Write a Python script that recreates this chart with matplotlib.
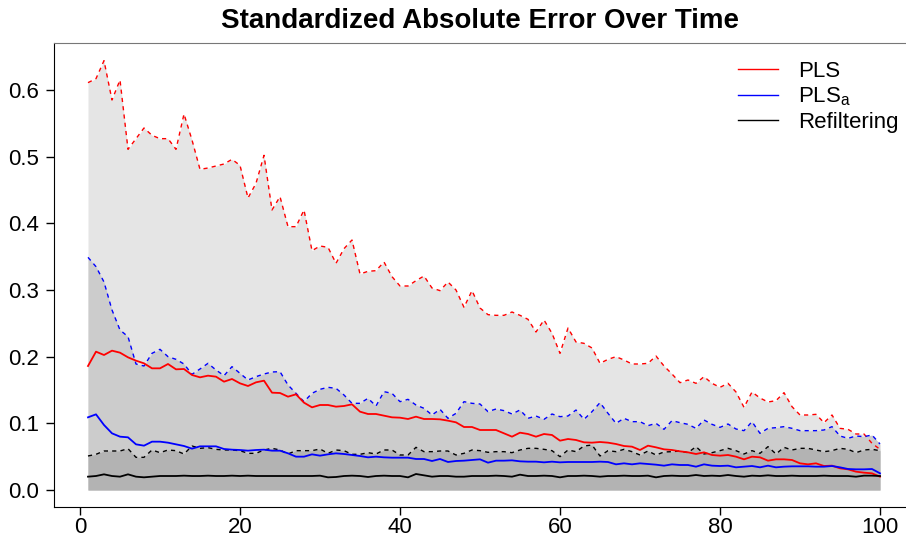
import numpy as np
import matplotlib
matplotlib.use("Agg")
import matplotlib.pyplot as plt

plt.rcParams['font.family'] = ['Liberation Sans', 'DejaVu Sans']
plt.rcParams['mathtext.fontset'] = 'custom'
plt.rcParams['mathtext.rm'] = 'Liberation Sans'
plt.rcParams['mathtext.it'] = 'Liberation Sans'

time = np.arange(1, 101)

pls_upper = [0.611, 0.617, 0.644, 0.585, 0.615, 0.511, 0.527, 0.543, 0.532, 0.527,
             0.527, 0.511, 0.564, 0.525, 0.481, 0.483, 0.486, 0.489, 0.496, 0.487,
             0.438, 0.460, 0.502, 0.420, 0.440, 0.395, 0.395, 0.420, 0.359, 0.366,
             0.364, 0.340, 0.362, 0.375, 0.324, 0.328, 0.329, 0.342, 0.320, 0.306,
             0.306, 0.314, 0.321, 0.303, 0.299, 0.312, 0.300, 0.274, 0.299, 0.273,
             0.263, 0.262, 0.262, 0.267, 0.262, 0.256, 0.237, 0.255, 0.235, 0.205,
             0.243, 0.222, 0.220, 0.213, 0.190, 0.196, 0.200, 0.195, 0.189, 0.189,
             0.190, 0.201, 0.186, 0.174, 0.161, 0.165, 0.160, 0.170, 0.160, 0.154,
             0.160, 0.147, 0.124, 0.147, 0.138, 0.132, 0.134, 0.146, 0.125, 0.1125,
             0.1125, 0.1135, 0.101, 0.1125, 0.0925, 0.091, 0.084, 0.084, 0.070, 0.061]

plsa_upper = [0.349, 0.335, 0.312, 0.270, 0.240, 0.230, 0.189, 0.186, 0.205, 0.211,
              0.200, 0.196, 0.189, 0.1735, 0.1815, 0.190, 0.180, 0.1715, 0.185, 0.175,
              0.165, 0.170, 0.174, 0.177, 0.1775, 0.1575, 0.145, 0.1325, 0.145, 0.151,
              0.154, 0.1525, 0.1425, 0.130, 0.130, 0.1375, 0.126, 0.1475, 0.145, 0.1325,
              0.136, 0.1275, 0.1225, 0.1125, 0.121, 0.1075, 0.115, 0.1325, 0.130, 0.129,
              0.1175, 0.1215, 0.119, 0.114, 0.120, 0.1075, 0.111, 0.106, 0.114, 0.110,
              0.111, 0.120, 0.106, 0.1175, 0.131, 0.115, 0.100, 0.1075, 0.1025, 0.1025,
              0.0965, 0.100, 0.091, 0.104, 0.101, 0.0985, 0.0925, 0.105, 0.0985, 0.094,
              0.099, 0.0915, 0.089, 0.1025, 0.085, 0.0925, 0.0935, 0.095, 0.0925, 0.089,
              0.089, 0.089, 0.090, 0.095, 0.081, 0.0775, 0.081, 0.080, 0.0825, 0.069]

ref_upper = [0.051, 0.0535, 0.0585, 0.0585, 0.0585, 0.062, 0.049, 0.049, 0.060, 0.056,
             0.060, 0.059, 0.054, 0.066, 0.0625, 0.0635, 0.061, 0.060, 0.060, 0.059,
             0.055, 0.055, 0.060, 0.0625, 0.060, 0.054, 0.059, 0.059, 0.059, 0.0615,
             0.055, 0.060, 0.059, 0.0535, 0.0535, 0.056, 0.054, 0.060, 0.060, 0.0525,
             0.0525, 0.064, 0.0575, 0.0575, 0.0585, 0.0585, 0.0525, 0.055, 0.060, 0.059,
             0.0565, 0.0575, 0.0575, 0.056, 0.060, 0.0625, 0.0625, 0.061, 0.059, 0.050,
             0.060, 0.0575, 0.066, 0.0675, 0.051, 0.059, 0.0575, 0.061, 0.0575, 0.0525,
             0.0585, 0.0525, 0.057, 0.0575, 0.0585, 0.056, 0.065, 0.054, 0.056, 0.059,
             0.0625, 0.059, 0.054, 0.059, 0.055, 0.065, 0.054, 0.064, 0.060, 0.0625,
             0.0625, 0.060, 0.0575, 0.059, 0.0625, 0.061, 0.056, 0.060, 0.061, 0.059]

pls_mean = [0.186, 0.2075, 0.2025, 0.209, 0.206, 0.199, 0.194, 0.190, 0.1825, 0.1825,
            0.189, 0.181, 0.1815, 0.1725, 0.169, 0.1715, 0.170, 0.1625, 0.1665, 0.160,
            0.156, 0.1615, 0.164, 0.146, 0.1455, 0.140, 0.1435, 0.131, 0.124, 0.1275,
            0.1275, 0.125, 0.126, 0.1285, 0.1175, 0.114, 0.114, 0.1115, 0.109, 0.1085,
            0.1065, 0.110, 0.1065, 0.1065, 0.106, 0.104, 0.1015, 0.0945, 0.0945, 0.090,
            0.090, 0.090, 0.085, 0.080, 0.086, 0.084, 0.080, 0.084, 0.0825, 0.074,
            0.0765, 0.075, 0.0715, 0.071, 0.072, 0.071, 0.069, 0.066, 0.065, 0.060,
            0.0665, 0.064, 0.061, 0.060, 0.058, 0.0565, 0.054, 0.0565, 0.0525, 0.0515,
            0.0525, 0.050, 0.046, 0.050, 0.049, 0.044, 0.046, 0.046, 0.045, 0.040,
            0.0385, 0.040, 0.036, 0.0365, 0.0325, 0.031, 0.0275, 0.026, 0.025, 0.020]

plsa_mean = [0.109, 0.1135, 0.0975, 0.085, 0.080, 0.079, 0.0685, 0.0665, 0.0725, 0.0725,
             0.071, 0.0685, 0.066, 0.062, 0.0655, 0.0655, 0.0655, 0.0615, 0.0605, 0.060,
             0.059, 0.060, 0.0605, 0.059, 0.059, 0.055, 0.050, 0.050, 0.0535, 0.0515,
             0.0535, 0.055, 0.054, 0.0525, 0.051, 0.049, 0.050, 0.049, 0.0485, 0.0485,
             0.0485, 0.0465, 0.0465, 0.0435, 0.0465, 0.042, 0.0435, 0.044, 0.045, 0.046,
             0.041, 0.044, 0.044, 0.0445, 0.043, 0.0425, 0.0425, 0.0415, 0.0425, 0.0415,
             0.042, 0.042, 0.042, 0.042, 0.0425, 0.042, 0.0385, 0.040, 0.0385, 0.040,
             0.039, 0.038, 0.0365, 0.0385, 0.0375, 0.0375, 0.035, 0.0385, 0.0365, 0.036,
             0.0365, 0.034, 0.035, 0.036, 0.034, 0.0365, 0.034, 0.035, 0.0355, 0.0355,
             0.0355, 0.035, 0.035, 0.036, 0.034, 0.0315, 0.031, 0.031, 0.0315, 0.025]

ref_mean = [0.020, 0.021, 0.0235, 0.021, 0.020, 0.0235, 0.020, 0.019, 0.020, 0.021,
            0.021, 0.021, 0.0215, 0.021, 0.021, 0.0215, 0.021, 0.021, 0.0215, 0.021,
            0.0215, 0.021, 0.021, 0.021, 0.021, 0.021, 0.021, 0.021, 0.021, 0.0215,
            0.019, 0.0195, 0.021, 0.0215, 0.021, 0.0195, 0.021, 0.0215, 0.021, 0.021,
            0.019, 0.024, 0.022, 0.020, 0.021, 0.021, 0.020, 0.020, 0.021, 0.021,
            0.021, 0.0215, 0.021, 0.020, 0.023, 0.021, 0.021, 0.0215, 0.021, 0.019,
            0.021, 0.021, 0.0215, 0.021, 0.020, 0.021, 0.021, 0.0215, 0.021, 0.021,
            0.0215, 0.019, 0.021, 0.0215, 0.021, 0.021, 0.0225, 0.021, 0.0215, 0.021,
            0.0225, 0.021, 0.020, 0.0215, 0.021, 0.022, 0.021, 0.021, 0.0215, 0.021,
            0.021, 0.021, 0.0215, 0.021, 0.021, 0.021, 0.020, 0.0215, 0.0215, 0.021]

fig = plt.figure(figsize=(9.06, 5.36), dpi=100)
ax = fig.add_axes([54/906, 29/536, 852/906, 464/536])

# shaded bands, widest first
ax.fill_between(time, 0, pls_upper, color='#E5E5E5', lw=0)
ax.fill_between(time, 0, plsa_upper, color='#CCCCCC', lw=0)
ax.fill_between(time, 0, ref_upper, color='#B3B3B3', lw=0)

dash = (0, (3, 3))
ax.plot(time, pls_upper, color='red', lw=1, ls=dash)
ax.plot(time, plsa_upper, color='blue', lw=1, ls=dash)
ax.plot(time, ref_upper, color='black', lw=1, ls=dash)

ax.plot(time, pls_mean, color='red', lw=1.3, label='PLS')
ax.plot(time, plsa_mean, color='blue', lw=1.3, label=r'PLS$_\mathrm{a}$')
ax.plot(time, ref_mean, color='black', lw=1.3, label='Refiltering')

ax.set_xlim(-3.25, 103.25)
ax.set_ylim(-0.0255, 0.6705)
ax.set_xticks([0, 20, 40, 60, 80, 100])
ax.set_yticks([0.0, 0.1, 0.2, 0.3, 0.4, 0.5, 0.6])
ax.set_yticklabels(['0.0', '0.1', '0.2', '0.3', '0.4', '0.5', '0.6'])
ax.tick_params(labelsize=16, length=6, width=1, direction='out')
ax.tick_params(axis='y', pad=5)
ax.tick_params(axis='x', pad=1)

ax.spines['right'].set_visible(False)
ax.spines['top'].set_color('#777777')

ax.set_title('Standardized Absolute Error Over Time', fontsize=20,
             fontweight='bold', pad=11)

leg = ax.legend(loc='upper left', bbox_to_anchor=(738/906, 1 - 61/536),
                bbox_transform=fig.transFigure, frameon=False, fontsize=16,
                handlelength=1.8, handletextpad=0.9, labelspacing=0.16,
                borderaxespad=0, borderpad=0)
for line in leg.get_lines():
    line.set_linewidth(1)

fig.savefig('out.png', dpi=100)
